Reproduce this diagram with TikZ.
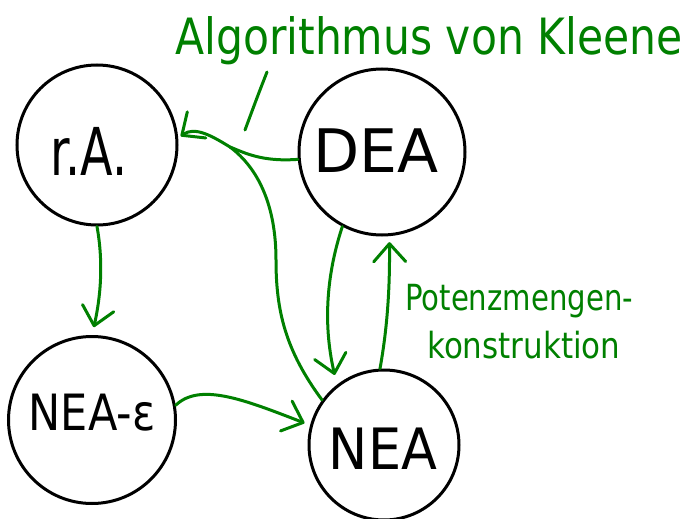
\documentclass[tikz,border=0pt]{standalone}
\usepackage{fontspec}
\setmainfont{DejaVu Sans}
\usetikzlibrary{arrows.meta}
\definecolor{pen}{RGB}{0,128,0}
\begin{document}
\begin{tikzpicture}[x=1pt,y=-1pt,
  state/.style={circle,draw=black,line width=3pt,inner sep=0pt},
  lbl/.style={inner sep=0pt,text=black},
  note/.style={inner sep=0pt,text=pen,anchor=base west},
  conn/.style={draw=pen,line width=3pt,line cap=round,line join=round,
    -{Straight Barb[length=18pt,width=32pt,round]}},
  plain/.style={draw=pen,line width=3pt,line cap=round,line join=round}]
\useasboundingbox (0,0) rectangle (688,519);

% states
\node[state,minimum size=160pt] (ra) at (97,145) {};
\node[state,minimum size=166pt] (dea) at (382,152) {};
\node[state,minimum size=167pt] (neae) at (92,420) {};
\node[state,minimum size=150pt] (nea) at (384,445) {};

% state texts
\node[lbl,anchor=base] (raT) at (89,175) {\fontsize{66}{66}\selectfont\scalebox{0.72}[1]{r.A.}};
\node[lbl,anchor=base] (deaT) at (376,172) {\fontsize{60}{60}\selectfont DEA};
\node[lbl,anchor=base] (neaT) at (383,469) {\fontsize{57}{57}\selectfont\scalebox{0.92}[1]{NEA}};
\node[lbl,anchor=base] (neaeT) at (92,430) {\fontsize{50}{50}\selectfont\scalebox{0.86}[1]{NEA-ε}};

% annotations
\node[note] (kl) at (175,55) {\fontsize{50}{50}\selectfont\scalebox{0.85}[1]{Algorithmus von Kleene}};
\node[note] (pot1) at (405,310) {\fontsize{36}{36}\selectfont\scalebox{0.81}[1]{Potenzmengen-}};
\node[note] (pot2) at (427,358) {\fontsize{36}{36}\selectfont\scalebox{0.86}[1]{konstruktion}};

% connectors
\coordinate (m) at (230,147);
\coordinate (p1) at (267,72);
\coordinate (p2) at (245,130);

\draw[conn,shorten >=8pt] (ra.south) .. controls (104,265) and (100,300) .. (neae.north);
\draw[conn,shorten >=6pt] (neae.10) .. controls (200,382) and (245,400) .. (nea.165);
\draw[conn,shorten >=3pt] (dea.185) .. controls (262,162) and (245,153) .. (m)
   .. controls (212,136) and (195,126) .. (ra.5);
\draw[plain] (nea.144) .. controls (285,350) and (276,310) .. (276,260)
   .. controls (276,205) and (258,168) .. (m);
\draw[conn,shorten >=10pt] (dea.242) .. controls (328,270) and (322,320) .. (nea.128);
\draw[conn,shorten >=6pt] (nea.93) .. controls (387,330) and (390,290) .. (dea.275);
\draw[plain] (p1) .. controls (258,95) .. (p2);
\end{tikzpicture}
\end{document}
